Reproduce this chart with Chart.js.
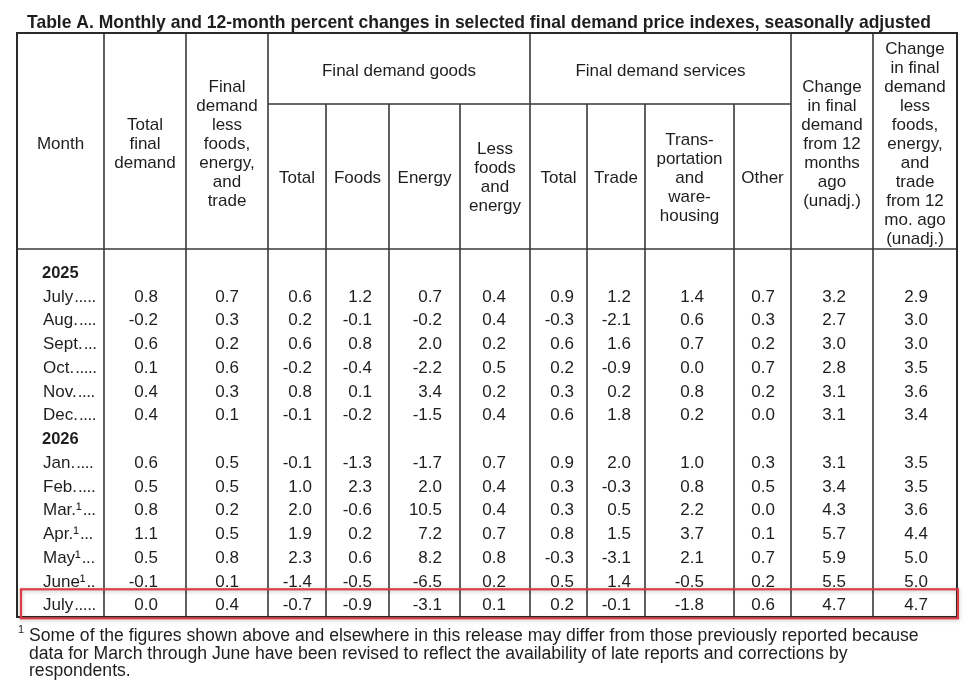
<!DOCTYPE html>
<html><head><meta charset="utf-8">
<script src="https://cdn.jsdelivr.net/npm/chart.js@4.4.0/dist/chart.umd.min.js"></script>
<style>html,body{margin:0;padding:0;background:#fff;}#wrap{width:969px;height:688px;position:relative;}</style>
</head><body><div id="wrap"><canvas id="c" width="969" height="688"></canvas></div>
<script>
// ---------- DATA ----------
const title = 'Table A. Monthly and 12-month percent changes in selected final demand price indexes, seasonally adjusted';
const rowLabels = ['2025','July','Aug.','Sept.','Oct.','Nov.','Dec.','2026','Jan.','Feb.','Mar.¹','Apr.¹','May¹','June¹','July'];
const yearLabels = ['2025','2026'];
const totalFinalDemand = [0.8,-0.2,0.6,0.1,0.4,0.4,0.6,0.5,0.8,1.1,0.5,-0.1,0.0];
const fdLessFoodsEnergyTrade = [0.7,0.3,0.2,0.6,0.3,0.1,0.5,0.5,0.2,0.5,0.8,0.1,0.4];
const goodsTotal = [0.6,0.2,0.6,-0.2,0.8,-0.1,-0.1,1.0,2.0,1.9,2.3,-1.4,-0.7];
const goodsFoods = [1.2,-0.1,0.8,-0.4,0.1,-0.2,-1.3,2.3,-0.6,0.2,0.6,-0.5,-0.9];
const goodsEnergy = [0.7,-0.2,2.0,-2.2,3.4,-1.5,-1.7,2.0,10.5,7.2,8.2,-6.5,-3.1];
const goodsLessFoodsEnergy = [0.4,0.4,0.2,0.5,0.2,0.4,0.7,0.4,0.4,0.7,0.8,0.2,0.1];
const servicesTotal = [0.9,-0.3,0.6,0.2,0.3,0.6,0.9,0.3,0.3,0.8,-0.3,0.5,0.2];
const servicesTrade = [1.2,-2.1,1.6,-0.9,0.2,1.8,2.0,-0.3,0.5,1.5,-3.1,1.4,-0.1];
const servicesTransport = [1.4,0.6,0.7,0.0,0.8,0.2,1.0,0.8,2.2,3.7,2.1,-0.5,-1.8];
const servicesOther = [0.7,0.3,0.2,0.7,0.2,0.0,0.3,0.5,0.0,0.1,0.7,0.2,0.6];
const change12mo = [3.2,2.7,3.0,2.8,3.1,3.1,3.1,3.4,4.3,5.7,5.9,5.5,4.7];
const changeCore12mo = [2.9,3.0,3.0,3.5,3.6,3.4,3.5,3.5,3.6,4.4,5.0,5.0,4.7];
const highlightRow = 14;

const headMonth = ['Month'];
const headTotal = ['Total','final','demand'];
const headCore = ['Final','demand','less','foods,','energy,','and','trade'];
const headGoods = ['Final demand goods'];
const headServices = ['Final demand services'];
const headGoodsSub = [['Total'],['Foods'],['Energy'],['Less','foods','and','energy']];
const headServicesSub = [['Total'],['Trade'],['Trans-','portation','and','ware-','housing'],['Other']];
const head12 = ['Change','in final','demand','from 12','months','ago','(unadj.)'];
const head12Core = ['Change','in final','demand','less','foods,','energy,','and','trade','from 12','mo. ago','(unadj.)'];
const footnote = ['Some of the figures shown above and elsewhere in this release may differ from those previously reported because',
  'data for March through June have been revised to reflect the availability of late reports and corrections by',
  'respondents.'];

// ---------- LAYOUT ----------
const seriesList = [totalFinalDemand, fdLessFoodsEnergyTrade, goodsTotal, goodsFoods, goodsEnergy, goodsLessFoodsEnergy,
  servicesTotal, servicesTrade, servicesTransport, servicesOther, change12mo, changeCore12mo];
const colLines = [17,104,186,268,326,389,460,530,587,645,734,791,873,957];
const valueRight = [158,239,312,372,442,506,574,631,704,775,846,928];
const FONT = '"Liberation Sans", Arial, Helvetica, sans-serif';
const TXT = '#1e1e1e';
const LINE = '#3a3a3a';
const TOP = 33, SUBTOP = 104, HEADBOT = 249, BOT = 617;

const dataRows = rowLabels.map((l,i)=>i).filter(i=>!yearLabels.includes(rowLabels[i]));

const datasets = seriesList.map((s,c)=>({
  label: 'col'+c,
  data: s.map((v,i)=>({x: valueRight[c], y: dataRows[i], v: v})),
  pointRadius: 0, pointHoverRadius: 0, showLine: false
}));

function drawLines(ctx, lines, cx, cy, lh, size, bold){
  ctx.font = (bold?'bold ':'') + size + 'px ' + FONT;
  ctx.textAlign = 'center';
  ctx.textBaseline = 'alphabetic';
  const n = lines.length;
  lines.forEach((t,k)=>{
    const y = cy + (k-(n-1)/2)*lh + size*0.358;
    ctx.fillText(t, cx, y);
  });
}
function fitFont(ctx, text, width, bold){
  let s = 20;
  ctx.font = (bold?'bold ':'') + s + 'px ' + FONT;
  const w = ctx.measureText(text).width;
  return s*width/w;
}

const tablePlugin = {
  id: 'tablePlugin',
  afterDatasetsDraw(chart){
    const ctx = chart.ctx;
    const xs = chart.scales.x, ys = chart.scales.y;
    ctx.save();
    ctx.fillStyle = TXT;
    // title
    const ts = fitFont(ctx, title, 905, true);
    ctx.font = 'bold ' + ts + 'px ' + FONT;
    ctx.textAlign = 'left'; ctx.textBaseline = 'alphabetic';
    ctx.fillText(title, 27, 28);

    // grid lines
    ctx.strokeStyle = LINE;
    ctx.lineWidth = 1.6;
    const vx = v => xs.getPixelForValue(v);
    ctx.beginPath();
    colLines.forEach((x,i)=>{
      const sub = [4,5,6,8,9,10].includes(i);
      ctx.moveTo(vx(x), sub?SUBTOP:TOP); ctx.lineTo(vx(x), BOT);
    });
    ctx.moveTo(vx(colLines[3]), SUBTOP); ctx.lineTo(vx(colLines[11]), SUBTOP);
    ctx.moveTo(vx(colLines[0]), HEADBOT); ctx.lineTo(vx(colLines[13]), HEADBOT);
    ctx.stroke();
    ctx.lineWidth = 2;
    ctx.strokeStyle = '#2a2a2a';
    ctx.strokeRect(vx(colLines[0]), TOP, vx(colLines[13])-vx(colLines[0]), BOT-TOP);

    // header
    ctx.fillStyle = TXT;
    const mid = (a,b)=> (vx(colLines[a])+vx(colLines[b]))/2;
    const LH = 19, HS = 17;
    drawLines(ctx, headMonth, mid(0,1), 142.5, LH, HS);
    drawLines(ctx, headTotal, mid(1,2), 142.5, LH, HS);
    drawLines(ctx, headCore, mid(2,3), 142.5, LH, HS);
    drawLines(ctx, headGoods, mid(3,7), 70, LH, HS);
    drawLines(ctx, headServices, mid(7,11), 70, LH, HS);
    headGoodsSub.forEach((h,k)=>drawLines(ctx, h, mid(3+k,4+k), 176.5, LH, HS));
    headServicesSub.forEach((h,k)=>drawLines(ctx, h, mid(7+k,8+k), 176.5, LH, HS));
    drawLines(ctx, head12, mid(11,12), 142.5, LH, HS);
    drawLines(ctx, head12Core, mid(12,13), 142.5, LH, HS);

    // row labels
    rowLabels.forEach((lab,i)=>{
      const y = ys.getPixelForValue(i) + 17*0.358;
      if (yearLabels.includes(lab)) {
        ctx.font = 'bold 16.5px ' + FONT;
        ctx.textAlign = 'left';
        ctx.fillText(lab, 42, y);
      } else {
        ctx.font = '17px ' + FONT;
        ctx.textAlign = 'left';
        ctx.fillText(lab, 43, y);
        let x = 43 + ctx.measureText(lab).width + 1;
        const dw = 4.3;
        let n = Math.floor((97 - x)/dw);
        for (let k=0;k<n;k++) ctx.fillText('.', x + k*dw, y);
      }
    });

    // values
    ctx.font = '17px ' + FONT;
    ctx.textAlign = 'right';
    chart.data.datasets.forEach((ds,di)=>{
      const meta = chart.getDatasetMeta(di);
      meta.data.forEach((pt,i)=>{
        const v = ds.data[i].v;
        ctx.fillText(v.toFixed(1), pt.x, pt.y + 17*0.358);
      });
    });

    // footnote
    ctx.font = '11px ' + FONT;
    ctx.textAlign = 'left';
    ctx.fillText('1', 18, 633);
    const fs = fitFont(ctx, footnote[0], 890, false);
    ctx.font = fs + 'px ' + FONT;
    footnote.forEach((t,k)=> ctx.fillText(t, 29, 641 + k*17.5));

    // highlight box
    const hy = ys.getPixelForValue(highlightRow);
    ctx.shadowColor = 'rgba(0,0,0,0.25)';
    ctx.shadowBlur = 4;
    ctx.shadowOffsetY = 1;
    ctx.strokeStyle = '#dc3c44';
    ctx.lineWidth = 2.2;
    ctx.strokeRect(21, hy - 15, 937, 29);
    ctx.restore();
  }
};

new Chart(document.getElementById('c'), {
  type: 'scatter',
  data: { datasets },
  options: {
    responsive: false,
    animation: false,
    devicePixelRatio: 1,
    layout: { padding: { left: 0, right: 0, top: 271.7, bottom: 83.7 } },
    plugins: { legend: { display: false }, tooltip: { enabled: false }, title: { display: false } },
    scales: {
      x: { type: 'linear', min: 0, max: 969, display: false },
      y: { type: 'linear', min: 0, max: rowLabels.length - 1, reverse: true, display: false }
    }
  },
  plugins: [tablePlugin]
});
</script>
</body></html>
